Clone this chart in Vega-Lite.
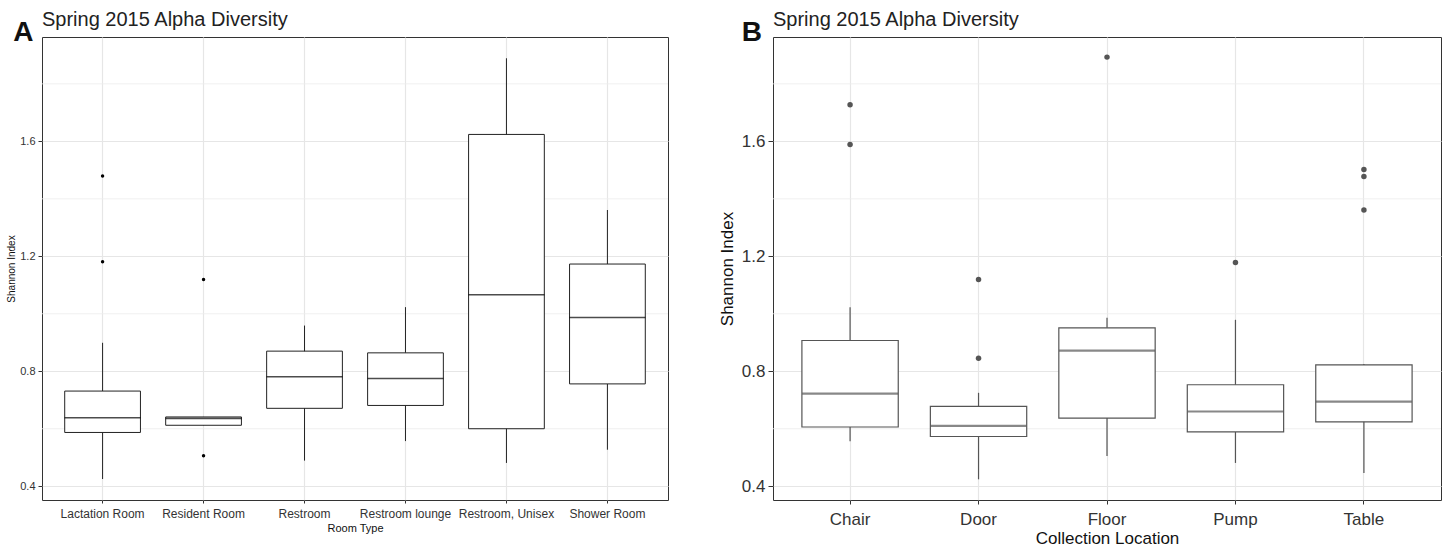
{
  "$schema": "https://vega.github.io/schema/vega-lite/v6.json",
  "padding": {"left": 6, "top": 9, "right": 0, "bottom": 0},
  "autosize": {"type": "pad"},
  "spacing": 48,
  "resolve": {"scale": {"x": "independent", "y": "independent"}},
  "config": {
    "font": "Liberation Sans",
    "view": {"stroke": "#333333", "strokeWidth": 1},
    "axis": {"titleFontWeight": "normal", "domain": false, "gridColor": "#e6e6e6", "gridWidth": 1.2, "tickColor": "#333333", "labelColor": "#333333", "titleColor": "#111111", "labelFont": "Liberation Sans", "titleFont": "Liberation Sans"}
  },
  "datasets": {
    "boxA": [
      {"room": "Lactation Room", "lower": 0.425, "q1": 0.587, "median": 0.638, "q3": 0.731, "upper": 0.899},
      {"room": "Resident Room", "lower": 0.612, "q1": 0.612, "median": 0.636, "q3": 0.641, "upper": 0.641},
      {"room": "Restroom", "lower": 0.489, "q1": 0.671, "median": 0.781, "q3": 0.870, "upper": 0.959},
      {"room": "Restroom lounge", "lower": 0.557, "q1": 0.681, "median": 0.775, "q3": 0.864, "upper": 1.023},
      {"room": "Restroom, Unisex", "lower": 0.481, "q1": 0.600, "median": 1.066, "q3": 1.624, "upper": 1.889},
      {"room": "Shower Room", "lower": 0.527, "q1": 0.756, "median": 0.987, "q3": 1.173, "upper": 1.361}
    ],
    "outA": [
      {"room": "Lactation Room", "value": 1.479},
      {"room": "Lactation Room", "value": 1.181},
      {"room": "Resident Room", "value": 1.119},
      {"room": "Resident Room", "value": 0.506}
    ],
    "boxB": [
      {"location": "Chair", "lower": 0.556, "q1": 0.606, "median": 0.722, "q3": 0.907, "upper": 1.023},
      {"location": "Door", "lower": 0.424, "q1": 0.573, "median": 0.610, "q3": 0.678, "upper": 0.725},
      {"location": "Floor", "lower": 0.505, "q1": 0.637, "median": 0.872, "q3": 0.951, "upper": 0.986},
      {"location": "Pump", "lower": 0.481, "q1": 0.589, "median": 0.660, "q3": 0.753, "upper": 0.979},
      {"location": "Table", "lower": 0.446, "q1": 0.624, "median": 0.694, "q3": 0.822, "upper": 0.825}
    ],
    "outB": [
      {"location": "Chair", "value": 1.727},
      {"location": "Chair", "value": 1.589},
      {"location": "Door", "value": 1.119},
      {"location": "Door", "value": 0.845},
      {"location": "Floor", "value": 1.893},
      {"location": "Pump", "value": 1.178},
      {"location": "Table", "value": 1.502},
      {"location": "Table", "value": 1.478},
      {"location": "Table", "value": 1.361}
    ],
    "minorGrid": [
      {"g": 0.6}, {"g": 1.0}, {"g": 1.4}, {"g": 1.8}
    ]
  },
  "hconcat": [
    {
      "title": {"text": "A", "fontSize": 28, "fontWeight": "bold", "anchor": "start", "frame": "bounds", "offset": -37, "dx": 7, "color": "#111111", "font": "Liberation Sans"},
      "vconcat": [
        {
          "width": 626,
          "height": 463,
          "title": {"text": "Spring 2015 Alpha Diversity", "fontSize": 20, "fontWeight": "normal", "anchor": "start", "frame": "group", "offset": 7, "color": "#222222", "font": "Liberation Sans"},
          "layer": [
            {
              "data": {"name": "minorGrid"},
              "mark": {"type": "rule", "color": "#ececec", "strokeWidth": 0.8},
              "encoding": {"y": {"field": "g", "type": "quantitative", "scale": {"domain": [0.352, 1.963], "nice": false, "zero": false}}}
            },
            {
              "data": {"name": "boxA"},
              "mark": {"type": "rule", "color": "#222222", "strokeWidth": 1},
              "encoding": {
                "x": {"field": "room", "type": "nominal", "sort": null, "scale": {"paddingInner": 0, "paddingOuter": 0.1},
                  "axis": {"title": "Room Type", "labelAngle": 0, "labelFontSize": 12, "titleFontSize": 11, "tickSize": 3, "labelPadding": 5, "titlePadding": 3, "grid": true, "bandPosition": 0.5}},
                "y": {"field": "lower", "type": "quantitative", "scale": {"domain": [0.352, 1.963], "nice": false, "zero": false},
                  "axis": {"title": "Shannon Index", "values": [0.4, 0.8, 1.2, 1.6], "format": ".1f", "labelFontSize": 11, "titleFontSize": 10, "tickSize": 4, "labelPadding": 3, "titlePadding": 3}},
                "y2": {"field": "upper"}
              }
            },
            {
              "data": {"name": "boxA"},
              "mark": {"type": "bar", "fill": "white", "stroke": "#222222", "strokeWidth": 1, "width": {"band": 0.75}},
              "encoding": {
                "x": {"field": "room", "type": "nominal", "sort": null},
                "y": {"field": "q1", "type": "quantitative"},
                "y2": {"field": "q3"}
              }
            },
            {
              "data": {"name": "boxA"},
              "mark": {"type": "tick", "color": "#000000", "size": 76, "thickness": 1.6, "orient": "horizontal"},
              "encoding": {
                "x": {"field": "room", "type": "nominal", "sort": null},
                "y": {"field": "median", "type": "quantitative"}
              }
            },
            {
              "data": {"name": "outA"},
              "mark": {"type": "point", "filled": true, "color": "#000000", "size": 12, "opacity": 1},
              "encoding": {
                "x": {"field": "room", "type": "nominal", "sort": null},
                "y": {"field": "value", "type": "quantitative"}
              }
            }
          ]
        }
      ]
    },
    {
      "title": {"text": "B", "fontSize": 28, "fontWeight": "bold", "anchor": "start", "frame": "bounds", "offset": -37, "dx": 24, "color": "#111111", "font": "Liberation Sans"},
      "vconcat": [
        {
          "width": 668,
          "height": 463,
          "title": {"text": "Spring 2015 Alpha Diversity", "fontSize": 20, "fontWeight": "normal", "anchor": "start", "frame": "group", "offset": 7, "color": "#222222", "font": "Liberation Sans"},
          "layer": [
            {
              "data": {"name": "minorGrid"},
              "mark": {"type": "rule", "color": "#ececec", "strokeWidth": 0.8},
              "encoding": {"y": {"field": "g", "type": "quantitative", "scale": {"domain": [0.352, 1.963], "nice": false, "zero": false}}}
            },
            {
              "data": {"name": "boxB"},
              "mark": {"type": "rule", "color": "#555555", "strokeWidth": 1.2},
              "encoding": {
                "x": {"field": "location", "type": "nominal", "sort": null, "scale": {"paddingInner": 0, "paddingOuter": 0.1},
                  "axis": {"title": "Collection Location", "labelAngle": 0, "labelFontSize": 17, "titleFontSize": 17, "tickSize": 4, "labelPadding": 7, "titlePadding": 3, "grid": true, "bandPosition": 0.5}},
                "y": {"field": "lower", "type": "quantitative", "scale": {"domain": [0.352, 1.963], "nice": false, "zero": false},
                  "axis": {"title": "Shannon Index", "values": [0.4, 0.8, 1.2, 1.6], "format": ".1f", "labelFontSize": 17, "titleFontSize": 17, "tickSize": 5, "labelPadding": 3, "titlePadding": 5}},
                "y2": {"field": "upper"}
              }
            },
            {
              "data": {"name": "boxB"},
              "mark": {"type": "bar", "fill": "white", "stroke": "#555555", "strokeWidth": 1.2, "width": {"band": 0.75}},
              "encoding": {
                "x": {"field": "location", "type": "nominal", "sort": null},
                "y": {"field": "q1", "type": "quantitative"},
                "y2": {"field": "q3"}
              }
            },
            {
              "data": {"name": "boxB"},
              "mark": {"type": "tick", "color": "#555555", "size": 96, "thickness": 2.2, "orient": "horizontal"},
              "encoding": {
                "x": {"field": "location", "type": "nominal", "sort": null},
                "y": {"field": "median", "type": "quantitative"}
              }
            },
            {
              "data": {"name": "outB"},
              "mark": {"type": "point", "filled": true, "color": "#555555", "size": 30, "opacity": 1},
              "encoding": {
                "x": {"field": "location", "type": "nominal", "sort": null},
                "y": {"field": "value", "type": "quantitative"}
              }
            }
          ]
        }
      ]
    }
  ]
}
